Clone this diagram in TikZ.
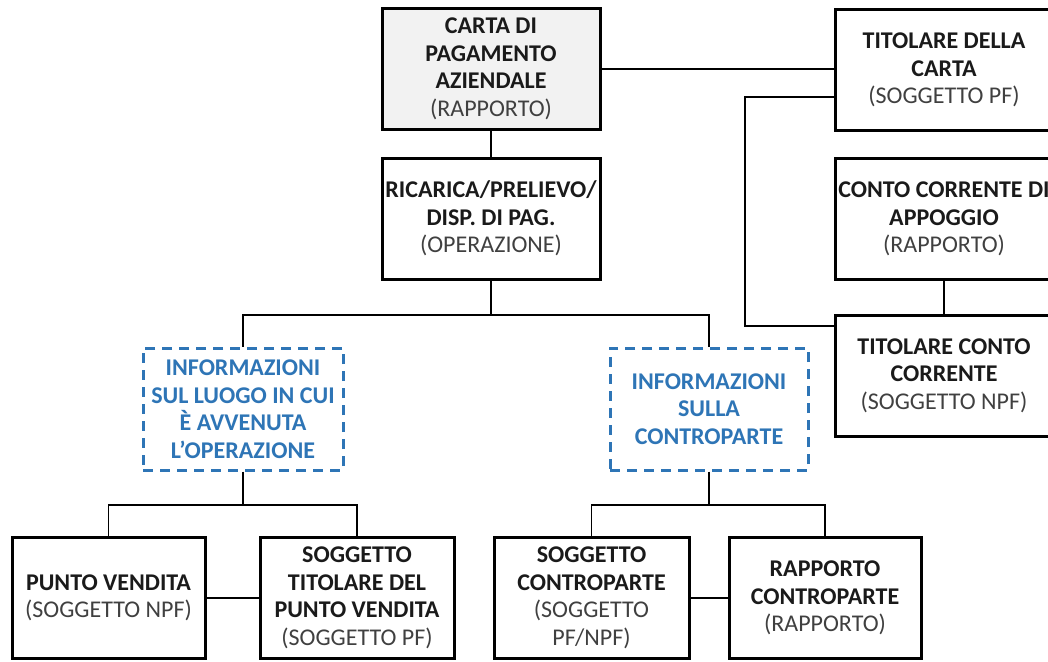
\documentclass[tikz,border=0pt]{standalone}
\usepackage{fontspec}
\setmainfont{Carlito}
\usetikzlibrary{calc}
\definecolor{boxgray}{HTML}{F2F2F2}
\definecolor{txtgray}{HTML}{404040}
\definecolor{txtblack}{HTML}{1A1A1A}
\definecolor{infoblue}{HTML}{2E75B6}
\newcommand{\sub}[1]{{\color{txtgray}\mdseries #1}}
\begin{document}
\begin{tikzpicture}[x=1pt,y=-1pt,
  base/.style={rectangle, inner sep=0pt, align=center,
    font=\fontsize{24}{27.5}\selectfont\bfseries, text=txtblack},
  solidbox/.style={base, draw=black, line width=3pt,
    minimum width=#1, minimum height=121},
  solidbox/.default=218,
  infobox/.style={base, draw=infoblue, line width=3pt,
    dash pattern=on 10pt off 7pt, text=infoblue,
    minimum width=#1, minimum height=122},
  conn/.style={draw=black, line width=1.6pt}]
\useasboundingbox (0,0) rectangle (1048,661);
\fill[white] (0,0) rectangle (1048,661);

\node[solidbox, fill=boxgray] (carta) at (491,69)
  {CARTA DI\\PAGAMENTO\\AZIENDALE\\\sub{(RAPPORTO)}};
\node[solidbox] (ricarica) at (491,218.5)
  {RICARICA/PRELIEVO/\\DISP. DI PAG.\\\sub{(OPERAZIONE)}};
\node[solidbox] (tdc) at (944,70)
  {TITOLARE DELLA\\CARTA\\\sub{(SOGGETTO PF)}};
\node[solidbox] (cca) at (944,219)
  {CONTO CORRENTE DI\\APPOGGIO\\\sub{(RAPPORTO)}};
\node[solidbox] (tcc) at (944,375.5)
  {TITOLARE CONTO\\CORRENTE\\\sub{(SOGGETTO NPF)}};
\node[infobox=200] (info1) at (243,409)
  {INFORMAZIONI\\SUL LUOGO IN CUI\\È AVVENUTA\\L’OPERAZIONE};
\node[infobox=198] (info2) at (709,409)
  {INFORMAZIONI\\SULLA\\CONTROPARTE};
\node[solidbox=193] (pv) at (108.5,598)
  {PUNTO VENDITA\\\sub{(SOGGETTO NPF)}};
\node[solidbox=194] (stpv) at (357,598)
  {SOGGETTO\\TITOLARE DEL\\PUNTO VENDITA\\\sub{(SOGGETTO PF)}};
\node[solidbox=195] (sc) at (591.5,598)
  {SOGGETTO\\CONTROPARTE\\\sub{(SOGGETTO}\\\sub{PF/NPF)}};
\node[solidbox=192] (rc) at (825,598)
  {RAPPORTO\\CONTROPARTE\\\sub{(RAPPORTO)}};

\coordinate (j1) at (745,97);
\coordinate (j2) at (745,326);
\coordinate (bus1) at (491,315);
\coordinate (bus2) at (243,505);
\coordinate (bus3) at (709,505);

\draw[conn] (carta.south) -- (ricarica.north);
\draw[conn] (carta.east) -- (carta.east -| tdc.west);
\draw[conn] (tdc.west |- j1) -- (j1) -- (j2) -- (tcc.west |- j2);
\draw[conn] (cca.south) -- (tcc.north);
\draw[conn] (ricarica.south) -- (bus1);
\draw[conn] (info1.north) |- (bus1) -| (info2.north);
\draw[conn] (info1.south) -- (bus2);
\draw[conn] (pv.north) |- (bus2) -| (stpv.north);
\draw[conn] (info2.south) -- (bus3);
\draw[conn] (sc.north) |- (bus3) -| (rc.north);
\draw[conn] (pv.east) -- (stpv.west);
\draw[conn] (sc.east) -- (rc.west);
\end{tikzpicture}
\end{document}
